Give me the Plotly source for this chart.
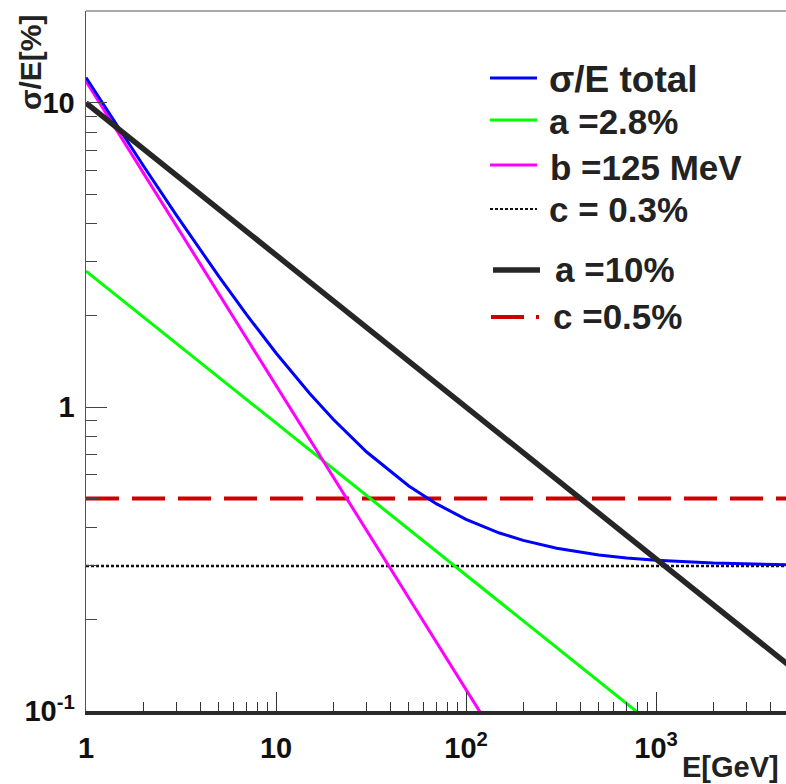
import plotly.graph_objects as go

# ---- data ----
E_total = [1, 1.5, 2, 3, 5, 7, 10, 15, 20, 30, 50, 70, 100, 150, 200, 300, 500, 700, 1000, 2000, 5000]
sig_total = [12.13, 8.20, 6.23, 4.26, 2.69, 2.013, 1.505, 1.110, 0.911, 0.711, 0.550, 0.480, 0.427,
             0.385, 0.364, 0.343, 0.326, 0.3185, 0.313, 0.3065, 0.3026]
E_a28 = [1, 800]
sig_a28 = [2.8, 0.099]
E_b125 = [1, 120]
sig_b125 = [11.8, 0.098]
E_c03 = [1, 5000]
sig_c03 = [0.3, 0.3]
E_a10 = [1, 5000]
sig_a10 = [10.0, 0.1414]
E_c05 = [1, 5000]
sig_c05 = [0.5, 0.5]

x_major = [1, 10, 100, 1000]
x_major_text = ["1", "10", "10<sup>2</sup>", "10<sup>3</sup>"]
y_major = [0.1, 1, 10]
y_major_text = ["10<sup>-1</sup>", "1", "10"]
x_minor = [m * d for d in (1, 10, 100, 1000) for m in range(2, 10) if m * d <= 5000]
y_minor = [m * d for d in (0.1, 1, 10) for m in range(2, 10) if m * d <= 20.1]

legend_items = [
    ("σ/E total", "#0000ff", 3, "solid"),
    ("a =2.8%", "#00ff00", 3, "solid"),
    ("b =125 MeV", "#ff00ff", 3, "solid"),
    ("c = 0.3%", "#111111", 2, "dot"),
    ("a =10%", "#262626", 5.5, "solid"),
    ("c =0.5%", "#cc0000", 4, "dash"),
]

# ---- geometry (page margin removed via post_script) ----
W, H = 786, 784
L, R, T, B = 86, 0, 11, 73
PW, PH = W - L - R, H - T - B
XMAX_LOG = 3.684
YMIN_LOG, YMAX_LOG = -1.0, 1.3026

def px(x):
    return (x - L) / PW

def py(y):
    return (H - B - y) / PH

TXT = "#222222"
FONT = "Liberation Sans, Arial, sans-serif"

fig = go.Figure()
fig.add_trace(go.Scatter(x=E_c05, y=sig_c05, mode="lines",
                         line=dict(color="#cc0000", width=4, dash="33px,13px")))
fig.add_trace(go.Scatter(x=E_c03, y=sig_c03, mode="lines",
                         line=dict(color="#111111", width=2.5, dash="3px,2px")))
fig.add_trace(go.Scatter(x=E_a28, y=sig_a28, mode="lines",
                         line=dict(color="#00ff00", width=3)))
fig.add_trace(go.Scatter(x=E_b125, y=sig_b125, mode="lines",
                         line=dict(color="#ff00ff", width=3)))
fig.add_trace(go.Scatter(x=E_total, y=sig_total, mode="lines",
                         line=dict(color="#0000ff", width=3)))
fig.add_trace(go.Scatter(x=E_a10, y=sig_a10, mode="lines",
                         line=dict(color="#262626", width=5.5)))

# ---- manual legend ----
legend_y = [78, 120, 165, 209, 270, 317]
text_x = [547, 547, 548, 547, 553, 551]
text_y = [79, 121, 167, 210, 269, 316]
shapes = []
annotations = []
for i, (label, col, wd, st) in enumerate(legend_items):
    y = legend_y[i]
    if i == 4:
        x0, x1 = 493, 540
    else:
        x0, x1 = 490, 537
    if st == "dash":
        shapes.append(dict(type="line", xref="paper", yref="paper", x0=px(491), x1=px(524),
                           y0=py(y), y1=py(y), line=dict(color=col, width=wd)))
        shapes.append(dict(type="line", xref="paper", yref="paper", x0=px(536), x1=px(539),
                           y0=py(y), y1=py(y), line=dict(color=col, width=wd)))
    elif st == "dot":
        shapes.append(dict(type="line", xref="paper", yref="paper", x0=px(x0), x1=px(x1),
                           y0=py(y), y1=py(y), line=dict(color=col, width=wd, dash="3px,2px")))
    else:
        shapes.append(dict(type="line", xref="paper", yref="paper", x0=px(x0), x1=px(x1),
                           y0=py(y), y1=py(y), line=dict(color=col, width=wd)))
    annotations.append(dict(text=label, xref="paper", yref="paper", x=px(text_x[i]), y=py(text_y[i]),
                            xanchor="left", yanchor="middle", showarrow=False,
                            font=dict(family=FONT, size=37 if i == 0 else 35, color=TXT, weight="bold")))

# top frame line
shapes.append(dict(type="line", xref="paper", yref="paper", x0=0, x1=1, y0=1, y1=1,
                   line=dict(color="#555555", width=1)))

# axis titles
annotations.append(dict(text="σ/E[%]", xref="paper", yref="paper", x=px(31), y=py(62),
                        xanchor="center", yanchor="middle", textangle=-90, showarrow=False,
                        font=dict(family=FONT, size=30, color=TXT, weight="bold")))
annotations.append(dict(text="E[GeV]", xref="paper", yref="paper", x=px(781), y=py(767),
                        xanchor="right", yanchor="middle", showarrow=False,
                        font=dict(family=FONT, size=29, color=TXT, weight="bold")))

fig.update_layout(
    width=W, height=H,
    margin=dict(l=L, r=R, t=T, b=B, pad=0, autoexpand=False),
    paper_bgcolor="white", plot_bgcolor="white",
    showlegend=False,
    shapes=shapes, annotations=annotations,
    xaxis=dict(type="log", range=[0, XMAX_LOG], showgrid=False, zeroline=False, automargin=False,
               showline=True, linecolor="#2a2a2a", linewidth=4,
               ticks="inside", ticklen=19, tickwidth=1, tickcolor="#333333",
               tickvals=x_major, ticktext=x_major_text, ticklabelstandoff=8,
               tickfont=dict(family=FONT, size=29, color="#111111", weight="bold"),
               minor=dict(tickvals=x_minor, ticks="inside", ticklen=9, tickwidth=1, tickcolor="#333333",
                          showgrid=False)),
    yaxis=dict(type="log", range=[YMIN_LOG, YMAX_LOG], showgrid=False, zeroline=False, automargin=False,
               showline=True, linecolor="#555555", linewidth=1.5,
               ticks="inside", ticklen=21, tickwidth=1, tickcolor="#444444",
               tickvals=y_major, ticktext=y_major_text, ticklabelstandoff=4,
               tickfont=dict(family=FONT, size=29, color="#111111", weight="bold"),
               minor=dict(tickvals=y_minor, ticks="inside", ticklen=11, tickwidth=1, tickcolor="#444444",
                          showgrid=False)),
)

fig.write_html("out.html", config={"displayModeBar": False, "staticPlot": True},
               post_script="document.body.style.margin='0px';document.body.style.overflow='hidden';")
